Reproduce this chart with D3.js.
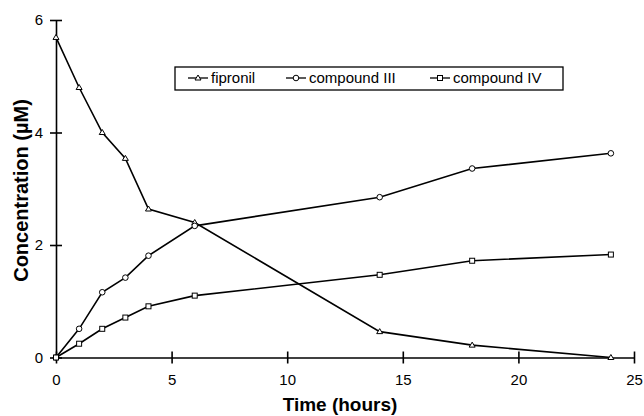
<!DOCTYPE html>
<html><head><meta charset="utf-8">
<script src="https://cdn.jsdelivr.net/npm/d3@7"></script>
<style>body{margin:0;background:#fff}svg{display:block}text{font-family:"Liberation Sans",Arial,sans-serif;fill:#000}</style>
</head><body><svg id="c" width="644" height="416"></svg>
<script>
const times = [0, 1, 2, 3, 4, 6, 14, 18, 24];
const fipronil = [5.69, 4.80, 4.00, 3.54, 2.64, 2.40, 0.46, 0.22, 0.0];
const compoundIII = [0.0, 0.51, 1.16, 1.42, 1.81, 2.34, 2.85, 3.36, 3.63];
const compoundIV = [0.0, 0.245, 0.51, 0.71, 0.91, 1.10, 1.47, 1.72, 1.83];
const xTicks = [0, 5, 10, 15, 20, 25];
const yTicks = [0, 2, 4, 6];
const seriesNames = ["fipronil", "compound III", "compound IV"];
const markers = ["triangle", "circle", "square"];

const svg = d3.select("#c");
const x = d3.scaleLinear().domain([0, 25]).range([56, 634]);
const y = d3.scaleLinear().domain([0, 6]).range([357.5, 20]);
const FONT = "Liberation Sans, Arial, sans-serif";

// axes with ticks crossing the axis line
const xAxis = svg.append("g").attr("transform", `translate(0,${y(0)})`)
  .call(d3.axisBottom(x).tickValues(xTicks).tickSizeInner(6).tickSizeOuter(0).tickPadding(11).tickFormat(d3.format("d")));
xAxis.select(".domain").attr("stroke", "#000").attr("stroke-width", 1.6);
xAxis.selectAll(".tick line").attr("y1", -6).attr("y2", 6).attr("stroke", "#000").attr("stroke-width", 1.6);
xAxis.selectAll("text").attr("font-size", 15).attr("font-family", FONT).attr("fill", "#000");

const yAxis = svg.append("g").attr("transform", `translate(${x(0)},0)`)
  .call(d3.axisLeft(y).tickValues(yTicks).tickSizeInner(6).tickSizeOuter(0).tickPadding(7).tickFormat(d3.format("d")));
yAxis.select(".domain").attr("stroke", "#000").attr("stroke-width", 1.6);
yAxis.selectAll(".tick line").attr("x1", 6).attr("x2", -6).attr("stroke", "#000").attr("stroke-width", 1.6);
yAxis.selectAll("text").attr("font-size", 15).attr("font-family", FONT).attr("fill", "#000");

// titles
svg.append("text").attr("x", 340).attr("y", 411).attr("text-anchor", "middle")
  .attr("font-size", 19).attr("font-weight", "bold").text("Time (hours)");
svg.append("text").attr("transform", "translate(28,190.5) rotate(-90)").attr("text-anchor", "middle")
  .attr("font-size", 20).attr("font-weight", "bold").text("Concentration (\u00b5M)");

const line = d3.line().x((d, i) => x(times[i])).y(d => y(d));
const data = [fipronil, compoundIII, compoundIV];

function drawMarker(sel, type, cx, cy) {
  if (type === "triangle") {
    sel.append("path").attr("d", `M${cx},${cy-3}L${cx+3},${cy+2}L${cx-3},${cy+2}Z`)
      .attr("fill", "#fff").attr("stroke", "#000").attr("stroke-width", 1);
  } else if (type === "circle") {
    sel.append("circle").attr("cx", cx).attr("cy", cy).attr("r", 2.8)
      .attr("fill", "#fff").attr("stroke", "#000").attr("stroke-width", 1);
  } else {
    sel.append("rect").attr("x", cx-2.5).attr("y", cy-2.5).attr("width", 5).attr("height", 5)
      .attr("fill", "#fff").attr("stroke", "#000").attr("stroke-width", 1);
  }
}

data.forEach((s, k) => {
  svg.append("path").datum(s).attr("d", line).attr("fill", "none")
    .attr("stroke", "#000").attr("stroke-width", 1.6);
  const mg = svg.append("g");
  s.forEach((v, i) => drawMarker(mg, markers[k], x(times[i]), y(v)));
});

// legend
const lg = svg.append("g");
lg.append("rect").attr("x", 175).attr("y", 67).attr("width", 388).attr("height", 23)
  .attr("fill", "#fff").attr("stroke", "#000").attr("stroke-width", 1.3);
const legX = [188, 286, 430];
seriesNames.forEach((n, k) => {
  const lx = legX[k], ly = 78;
  lg.append("line").attr("x1", lx).attr("x2", lx + 20).attr("y1", ly).attr("y2", ly)
    .attr("stroke", "#000").attr("stroke-width", 1.3);
  drawMarker(lg, markers[k], lx + 10, ly);
  lg.append("text").attr("x", lx + 23).attr("y", ly + 5).attr("font-size", 15).text(n);
});
</script></body></html>
